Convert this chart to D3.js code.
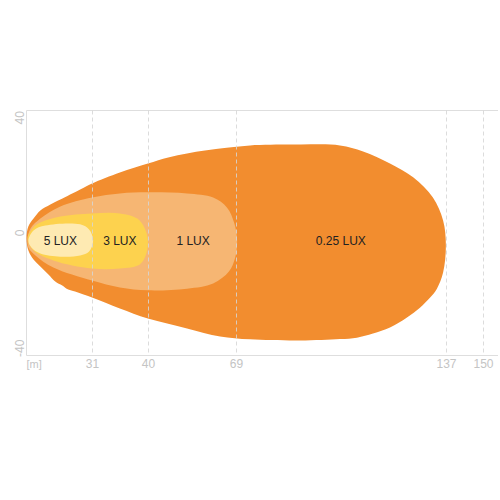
<!DOCTYPE html>
<html>
<head>
<meta charset="utf-8">
<script src="https://cdn.jsdelivr.net/npm/d3@7"></script>
<style>
  body { margin: 0; background: #fff; }
  text { font-family: "Liberation Sans", Arial, sans-serif; }
</style>
</head>
<body>
<div id="chart"></div>
<script>
// tick labels
var xTicks = [31, 40, 69, 137, 150];
var yTicks = [-40, 0, 40];

// zones, from the outermost to the innermost
var zones = ["0.25 LUX", "1 LUX", "3 LUX", "5 LUX"];
var zoneColors = ["#f28d2f", "#f6b673", "#fdd24e", "#feeab2"];
var labelX = [102.8, 54.7, 35.4, 15.9];
var labelY = -2.8;

// outlines [distance m, width m]
var lux025 = [[0,-1.9],[0.9,2.3],[3.3,5.0],[6.5,7.8],[11.2,9.9],[15.9,11.6],[25.2,15.1],[30.8,17.2],
  [35.4,21.0],[39.9,24.1],[46.5,26.2],[52.7,27.6],[58.6,28.6],[63.6,29.3],[73.4,30.4],[89.6,30.7],
  [102.5,30.4],[110.0,28.3],[118.7,24.1],[126.2,19.3],[132.6,12.3],[135.9,4.3],[136.8,-4.3],
  [135.9,-13.7],[133.9,-19.3],[131.7,-22.4],[128.4,-25.9],[124.2,-29.3],[118.7,-32.8],[113.2,-34.9],
  [108.0,-36.3],[102.5,-36.8],[89.6,-37.3],[73.4,-36.9],[63.6,-35.9],[52.7,-33.1],[39.9,-29.7],
  [35.4,-26.2],[30.8,-22.4],[22.8,-20.3],[19.6,-19.6],[16.8,-18.2],[13.5,-16.8],[10.3,-14.4],
  [6.5,-11.6],[3.3,-9.2],[0.9,-6.1]];
var lux1 = [[0.5,-1.9],[1.9,1.6],[6.5,5.0],[15.9,9.2],[30.8,12.3],[35.4,13.7],[39.9,14.1],[52.7,13.7],
  [61.3,12.3],[65.9,8.8],[68.2,3.6],[69.2,-2.6],[68.5,-8.8],[66.5,-13.4],[61.3,-17.5],[52.7,-19.3],
  [39.9,-19.9],[35.4,-18.9],[30.8,-16.5],[12.6,-12.0],[4.2,-7.8],[0.9,-5.0]];
var lux3 = [[0.5,-1.9],[2.8,1.6],[6.5,3.6],[15.9,5.7],[30.8,6.8],[35.4,6.8],[38.2,5.0],[39.4,1.6],
  [39.9,-2.6],[39.6,-7.5],[38.6,-10.9],[35.4,-12.3],[30.8,-12.3],[12.6,-9.5],[3.3,-6.1]];
var lux5 = [[0.9,-2.6],[3.3,0.9],[8.9,2.6],[25.2,3.0],[29.4,1.2],[31.1,-2.6],[29.4,-6.4],[25.2,-7.8],
  [15.9,-8.2],[6.5,-7.1],[2.3,-5.0]];
var outlines = [lux025, lux1, lux3, lux5];

var W = 500, H = 500;
var plotLeft = 26.5, plotRight = 498, plotTop = 110.5, plotBottom = 355.5;

var svg = d3.select("#chart")
  .append("svg")
    .attr("width", W)
    .attr("height", H);

// the distance axis is not linear in the drawing
var x = d3.scaleLinear()
  .domain([0, 31, 40, 69, 137, 150])
  .range([plotLeft, 92.5, 148.5, 236.5, 446.5, 483.5]);

var y = d3.scaleLinear()
  .domain([-42.5, 42.5])
  .range([plotBottom, plotTop]);

var line = d3.line()
  .x(function(d) { return x(d[0]); })
  .y(function(d) { return y(d[1]); })
  .curve(d3.curveCatmullRomClosed.alpha(0.5));

// frame
svg.append("line")
  .attr("x1", plotLeft).attr("x2", plotRight).attr("y1", plotTop).attr("y2", plotTop)
  .attr("stroke", "#dedede");
svg.append("line")
  .attr("x1", plotLeft).attr("x2", plotRight).attr("y1", plotBottom).attr("y2", plotBottom)
  .attr("stroke", "#dedede");
svg.append("line")
  .attr("x1", plotLeft).attr("x2", plotLeft).attr("y1", plotTop).attr("y2", plotBottom)
  .attr("stroke", "#dedede");

// zones
svg.selectAll("path.zone")
  .data(outlines)
  .enter()
  .append("path")
    .attr("class", "zone")
    .attr("d", line)
    .attr("fill", function(d, i) { return zoneColors[i]; });

// dashed distance lines, on top of the zones
svg.selectAll("line.grid")
  .data(xTicks)
  .enter()
  .append("line")
    .attr("class", "grid")
    .attr("x1", function(d) { return x(d); })
    .attr("x2", function(d) { return x(d); })
    .attr("y1", plotTop)
    .attr("y2", plotBottom)
    .attr("stroke", "#d6d6d6")
    .attr("stroke-opacity", 0.85)
    .style("stroke-dasharray", "4,3");

// zone labels
svg.selectAll("text.zone")
  .data(zones)
  .enter()
  .append("text")
    .attr("class", "zone")
    .attr("x", function(d, i) { return x(labelX[i]); })
    .attr("y", y(labelY))
    .attr("text-anchor", "middle")
    .attr("dominant-baseline", "central")
    .style("font-size", "12px")
    .style("fill", "#222")
    .text(function(d) { return d; });

// x tick labels
svg.selectAll("text.xtick")
  .data(xTicks)
  .enter()
  .append("text")
    .attr("class", "xtick")
    .attr("x", function(d) { return x(d); })
    .attr("y", 368)
    .attr("text-anchor", "middle")
    .style("font-size", "12px")
    .style("fill", "#c4c4c4")
    .text(function(d) { return d; });

svg.append("text")
  .attr("x", plotLeft)
  .attr("y", 368)
  .style("font-size", "11px")
  .style("fill", "#c4c4c4")
  .text("[m]");

// y tick labels, rotated
svg.selectAll("text.ytick")
  .data(yTicks)
  .enter()
  .append("text")
    .attr("class", "ytick")
    .attr("transform", function(d) { return "translate(19.5," + y(d) + ")rotate(-90)"; })
    .attr("text-anchor", "middle")
    .attr("dominant-baseline", "central")
    .style("font-size", "12px")
    .style("fill", "#c4c4c4")
    .text(function(d) { return d; });
</script>
</body>
</html>
